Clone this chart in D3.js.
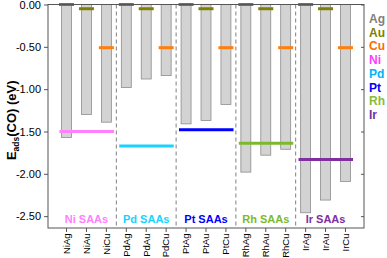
<!DOCTYPE html>
<html>
<head>
<meta charset="utf-8">
<script src="https://cdnjs.cloudflare.com/ajax/libs/d3/7.8.5/d3.min.js"></script>
<style>
  body { margin: 0; background: #fff; }
  svg { font-family: "Liberation Sans", Arial, sans-serif; }
</style>
</head>
<body>
<svg id="chart" width="387" height="258"></svg>
<script>
// CO adsorption energy on single-atom alloys vs pure metals

const hosts = ["Ni", "Pd", "Pt", "Rh", "Ir"];
const guests = ["Ag", "Au", "Cu"];
const alloys = ["NiAg", "NiAu", "NiCu", "PdAg", "PdAu", "PdCu", "PtAg", "PtAu", "PtCu",
                "RhAg", "RhAu", "RhCu", "IrAg", "IrAu", "IrCu"];
const saaValues = [-1.57, -1.30, -1.39, -0.98, -0.88, -0.84, -1.41, -1.37, -1.18,
                   -1.98, -1.78, -1.71, -2.46, -2.31, -2.09];
const guestRef = [0.00, -0.05, -0.51];          // pure Ag, Au, Cu
const hostRef = [-1.50, -1.67, -1.48, -1.64, -1.83]; // pure Ni, Pd, Pt, Rh, Ir
const yTicks = [0, -0.5, -1.0, -1.5, -2.0, -2.5];
const legendItems = ["Ag", "Au", "Cu", "Ni", "Pd", "Pt", "Rh", "Ir"];

const color = d3.scaleOrdinal()
  .domain(legendItems)
  .range(["#7f7f7f", "#808000", "#ff6a00", "#ff3cff", "#00b4f5", "#0000ff", "#86bb3c", "#7030a0"]);
const lineColor = d3.scaleOrdinal()
  .domain(legendItems)
  .range(["#6f6f6f", "#808000", "#ff7f0e", "#ff7fff", "#19d2ff", "#0000ff", "#7cba2c", "#7f2f9f"]);

const svg = d3.select("#chart");
const margin = { top: 4.5, right: 23, bottom: 30, left: 48 };
const width = 387, height = 258;

const x = d3.scaleBand()
  .domain(alloys)
  .range([margin.left, width - margin.right])
  .paddingInner(0.5)
  .paddingOuter(0.68);

const y = d3.scaleLinear()
  .domain([-2.64, 0])
  .range([height - margin.bottom, margin.top]);

const g = svg.append("g");

// Bars (hang from 0)
g.selectAll("rect.bar")
  .data(alloys)
  .join("rect")
  .attr("class", "bar")
  .attr("x", d => x(d))
  .attr("width", x.bandwidth())
  .attr("y", y(0))
  .attr("height", (d, i) => y(saaValues[i]) - y(0))
  .attr("fill", "#d3d3d3")
  .attr("stroke", "#8c8c8c")
  .attr("stroke-width", 0.8);

// Group separators
const step = x.step();
g.selectAll("line.sep")
  .data(hosts.slice(1))
  .join("line")
  .attr("class", "sep")
  .attr("x1", (d, i) => x(alloys[(i + 1) * 3]) - (step - x.bandwidth()) / 2)
  .attr("x2", (d, i) => x(alloys[(i + 1) * 3]) - (step - x.bandwidth()) / 2)
  .attr("y1", y(0))
  .attr("y2", height - margin.bottom)
  .attr("stroke", "#808080")
  .attr("stroke-width", 1)
  .attr("stroke-dasharray", "4,3");

// Pure guest metal reference lines (short, per bar)
g.selectAll("line.guest")
  .data(alloys)
  .join("line")
  .attr("class", "guest")
  .attr("x1", d => x(d) + x.bandwidth() / 2 - 7.5)
  .attr("x2", d => x(d) + x.bandwidth() / 2 + 7.5)
  .attr("y1", (d, i) => y(guestRef[i % 3]))
  .attr("y2", (d, i) => y(guestRef[i % 3]))
  .attr("stroke", (d, i) => lineColor(guests[i % 3]))
  .attr("stroke-width", 3);

// Pure host metal reference lines (span the group)
g.selectAll("line.host")
  .data(hosts)
  .join("line")
  .attr("class", "host")
  .attr("x1", (d, i) => x(alloys[i * 3 + 1]) + x.bandwidth() / 2 - 27)
  .attr("x2", (d, i) => x(alloys[i * 3 + 1]) + x.bandwidth() / 2 + 27.5)
  .attr("y1", (d, i) => y(hostRef[i]))
  .attr("y2", (d, i) => y(hostRef[i]))
  .attr("stroke", d => lineColor(d))
  .attr("stroke-width", 3);

// Group labels
g.selectAll("text.grp")
  .data(hosts)
  .join("text")
  .attr("class", "grp")
  .attr("x", (d, i) => x(alloys[i * 3 + 1]) + x.bandwidth() / 2)
  .attr("y", 222.5)
  .attr("text-anchor", "middle")
  .attr("fill", d => lineColor(d))
  .style("font-size", "11px")
  .style("font-weight", "bold")
  .text(d => `${d} SAAs`);

// Frame
g.append("rect")
  .attr("x", margin.left)
  .attr("y", margin.top)
  .attr("width", width - margin.left - margin.right)
  .attr("height", height - margin.top - margin.bottom)
  .attr("fill", "none")
  .attr("stroke", "#555")
  .attr("stroke-width", 1);

// Y axis
const yAxis = g.append("g")
  .attr("transform", `translate(${margin.left},0)`)
  .call(d3.axisLeft(y).tickValues(yTicks).tickFormat(d3.format(".2f")).tickSize(4).tickPadding(3));
yAxis.select(".domain").remove();
yAxis.selectAll("line").attr("stroke", "#555");
yAxis.selectAll("text")
  .style("font-size", "11px")
  .style("font-family", "Liberation Sans, Arial, sans-serif")
  .attr("fill", "#000")
  .text(d => d3.format(".2f")(d).replace("−", "-"));

// Right axis ticks (inward)
const yRight = g.append("g")
  .attr("transform", `translate(${width - margin.right},0)`)
  .call(d3.axisLeft(y).tickValues(yTicks).tickSize(3).tickFormat(""));
yRight.select(".domain").remove();
yRight.selectAll("line").attr("stroke", "#555");

// X axis
const xAxis = g.append("g")
  .attr("transform", `translate(0,${height - margin.bottom})`)
  .call(d3.axisBottom(x).tickSize(4).tickPadding(3));
xAxis.select(".domain").remove();
xAxis.selectAll("line").attr("stroke", "#555");
xAxis.selectAll("text")
  .style("font-size", "9.5px")
  .style("font-family", "Liberation Sans, Arial, sans-serif")
  .attr("fill", "#000")
  .attr("transform", "rotate(-90)")
  .attr("text-anchor", "end")
  .attr("dy", "0.35em")
  .attr("x", -5.5)
  .attr("y", 0);

// Y axis title
const yTitle = g.append("text")
  .attr("transform", `translate(16,${(margin.top + height - margin.bottom) / 2 + 4}) rotate(-90)`)
  .attr("text-anchor", "middle")
  .style("font-size", "13px")
  .style("font-weight", "bold")
  .attr("fill", "#000");
yTitle.append("tspan").text("E");
yTitle.append("tspan").attr("dy", 3).style("font-size", "8.5px").text("ads");
yTitle.append("tspan").attr("dy", -3).text("(CO) (eV)");

// Legend
g.selectAll("text.leg")
  .data(legendItems)
  .join("text")
  .attr("class", "leg")
  .attr("x", 369)
  .attr("y", (d, i) => 23 + i * 13.7)
  .attr("fill", d => color(d))
  .style("font-size", "12px")
  .style("font-weight", "bold")
  .text(d => d);
</script>
</body>
</html>
